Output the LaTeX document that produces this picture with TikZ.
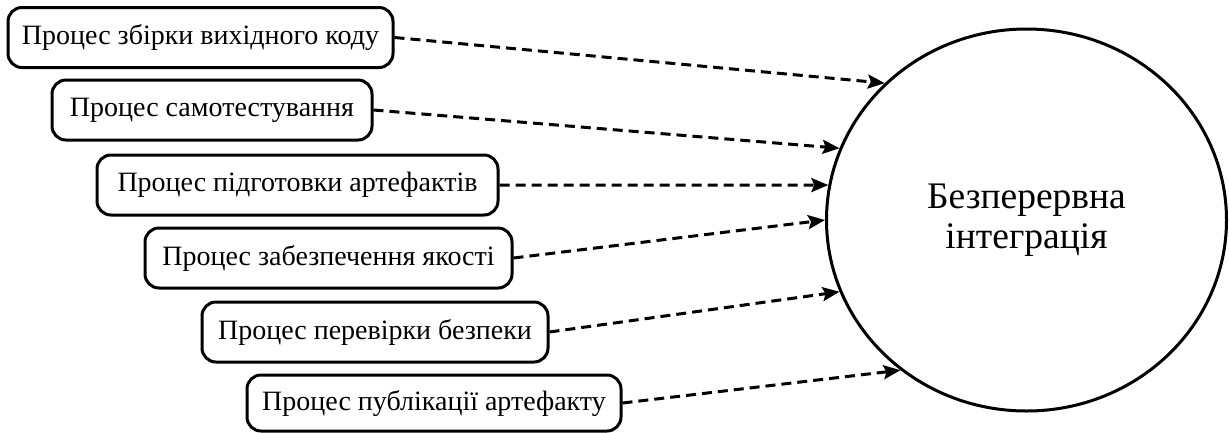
\documentclass[tikz,border=0pt]{standalone}
\usepackage{fontspec}
\setmainfont{Liberation Serif}
\usetikzlibrary{shapes.geometric,arrows.meta}
\tikzset{
  procbox/.style={draw, line width=3pt, rounded corners=14pt, inner sep=0pt,
    minimum height=60pt, font=\fontsize{28}{31}\selectfont, anchor=center},
  flow/.style={line width=3pt, dash pattern=on 10pt off 6pt,
    -{Stealth[length=17pt,width=14pt,inset=3pt]}},
}
\begin{document}
\begin{tikzpicture}[x=1pt,y=-1pt]
\useasboundingbox (0,0) rectangle (1229,432);
\node[ellipse, draw, line width=3pt, inner sep=0pt, minimum width=400pt, minimum height=382pt,
  align=center, font=\fontsize{37.5}{40}\selectfont] (ci) at (1026.5,220) {Безперервна\\інтеграція};
\node[procbox, minimum width=385pt] (b1) at (200.5,37.5) {Процес збірки вихідного коду};
\node[procbox, minimum width=320pt] (b2) at (212,110) {Процес самотестування};
\node[procbox, minimum width=401pt] (b3) at (297.5,185) {Процес підготовки артефактів};
\node[procbox, minimum width=367pt] (b4) at (328.5,258) {Процес забезпечення якості};
\node[procbox, minimum width=346pt] (b5) at (375,332) {Процес перевірки безпеки};
\node[procbox, minimum width=374pt, minimum height=56pt] (b6) at (434,403) {Процес публікації артефакту};
\draw[flow] (b1.east) -- (ci.136);
\draw[flow] (b2.east) -- (ci.159);
\draw[flow] (b3.east) -- (ci.170);
\draw[flow] (b4.east) -- (ci.180.6);
\draw[flow] (b5.east) -- (ci.201.7);
\draw[flow] (b6.east) -- (ci.230);
\end{tikzpicture}
\end{document}
